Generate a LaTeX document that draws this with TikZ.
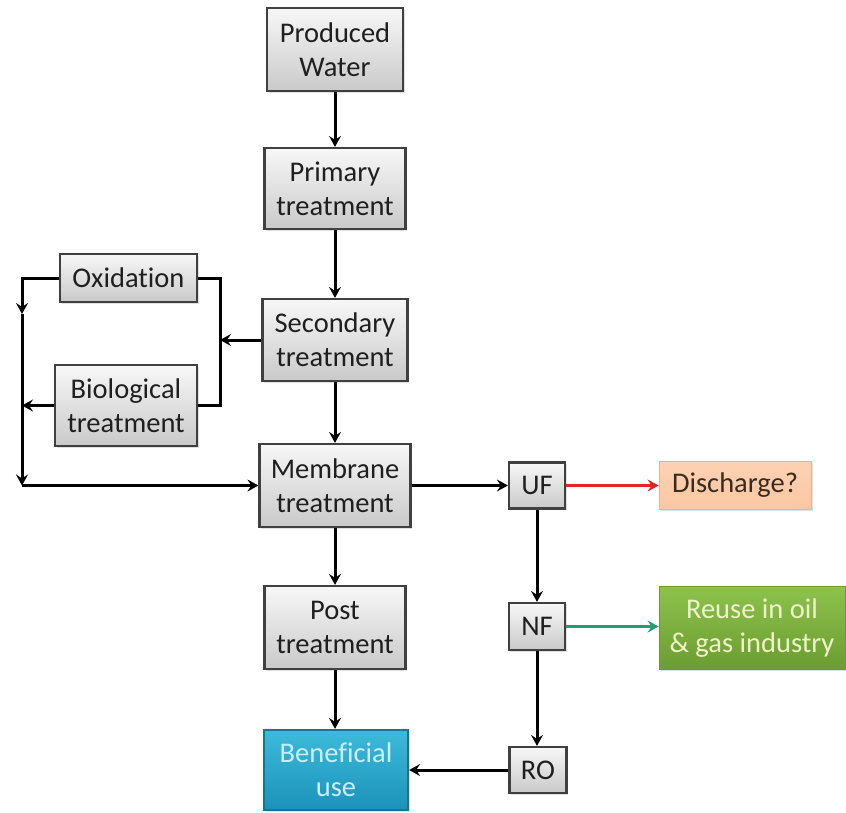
\documentclass[tikz,border=0pt]{standalone}
\usepackage{fontspec}
\setmainfont[Ligatures=NoCommon]{Carlito}
\usetikzlibrary{arrows.meta,shadows}
\definecolor{boxborder}{HTML}{404040}
\definecolor{peach}{HTML}{FBC7A2}
\definecolor{peachb}{HTML}{F3B284}
\definecolor{greentop}{HTML}{8DC24C}
\definecolor{greenbot}{HTML}{6C9C32}
\definecolor{bluetop}{HTML}{3DBADA}
\definecolor{bluebot}{HTML}{1C92BA}
\definecolor{redarr}{HTML}{E8202A}
\definecolor{greenarr}{HTML}{1FA070}
\begin{document}
\begin{tikzpicture}[x=1pt,y=-1pt,
  box/.style={draw=boxborder, line width=2.2pt, top color=gray!6, bottom color=gray!42,
    align=center, font=\fontsize{28.5}{34}\selectfont, text=black!88, inner sep=0pt,
    drop shadow={shadow xshift=1.5pt, shadow yshift=-1.5pt, opacity=0.25}},
  sz/.style 2 args={minimum width=#1pt, minimum height=#2pt},
  arr/.style={line width=3pt, -{Stealth[length=11pt,width=12pt,inset=4pt]}},
  ln/.style={line width=3pt}]
\useasboundingbox (0,0) rectangle (846,812);
% main column
\node[box, sz={136}{83}] (pw) at (335,49.5) {Produced\\Water};
\node[box, sz={141}{81}] (prim) at (335,188.5) {Primary\\treatment};
\node[box, sz={145}{82}] (sec) at (335,340) {Secondary\\treatment};
\node[box, sz={151}{83}] (mem) at (335,485.5) {Membrane\\treatment};
\node[box, sz={141}{83}] (post) at (335,627.5) {Post\\treatment};
\node[box, sz={144}{80}, draw=bluebot!80!black, top color=bluetop, bottom color=bluebot, text={rgb,255:red,200;green,240;blue,248}] (ben) at (336,770) {Beneficial\\use};
% left loop
\node[box, sz={137}{48}] (ox) at (128.5,278) {Oxidation};
\node[box, sz={142}{81}] (bio) at (126,405.5) {Biological\\treatment};
% membranes
\node[box, sz={56}{46}] (uf) at (537,485.5) {UF};
\node[box, sz={56}{47}] (nf) at (537,626.5) {NF};
\node[box, sz={57}{46}] (ro) at (538,770) {RO};
% outcomes
\node[box, sz={152}{48}, draw=peachb, line width=0.8pt, top color=peach!80, bottom color=peach, text={rgb,255:red,59;green,43;blue,31}] (dis) at (735,485.5) {Discharge?};
\node[box, sz={186}{83}, draw=greenbot, line width=0.8pt, top color=greentop, bottom color=greenbot, text={rgb,255:red,238;green,242;blue,200}] (reuse) at (752,628) {Reuse in oil\\\& gas industry};
% coordinates for loop
\coordinate (L1) at (22,278);
\coordinate (L2) at (22,314);
\coordinate (L3) at (22,485.5);
\coordinate (LB) at (22,405.5);
\coordinate (R1) at (220,278);
\coordinate (R2) at (220,405.5);
\coordinate (RS) at (220,340);
% arrows main
\draw[arr] (pw.south) -- (prim.north);
\draw[arr] (prim.south) -- (sec.north);
\draw[arr] (sec.south) -- (mem.north);
\draw[arr] (mem.south) -- (post.north);
\draw[arr] (post.south) -- (post.south |- ben.north);
% loop
\draw[ln] (ox.east) -- (R1) -- (R2) -- (bio.east);
\draw[arr] (sec.west) -- (RS);
\draw[arr] (ox.west) -- (L1) -- (L2);
\draw[arr] (L2) -- (L3);
\draw[arr] (bio.west) -- (LB);
\draw[arr] (L3) -- (mem.west);
% membrane chain
\draw[arr] (mem.east) -- (uf.west);
\draw[arr, draw=redarr, color=redarr] (uf.east) -- (dis.west);
\draw[arr] (uf.south) -- (nf.north);
\draw[arr, draw=greenarr, color=greenarr] (nf.east) -- (nf.east -| reuse.west);
\draw[arr] (nf.south) -- (nf.south |- ro.north);
\draw[arr] (ro.west) -- (ro.west -| ben.east);
\end{tikzpicture}
\end{document}
